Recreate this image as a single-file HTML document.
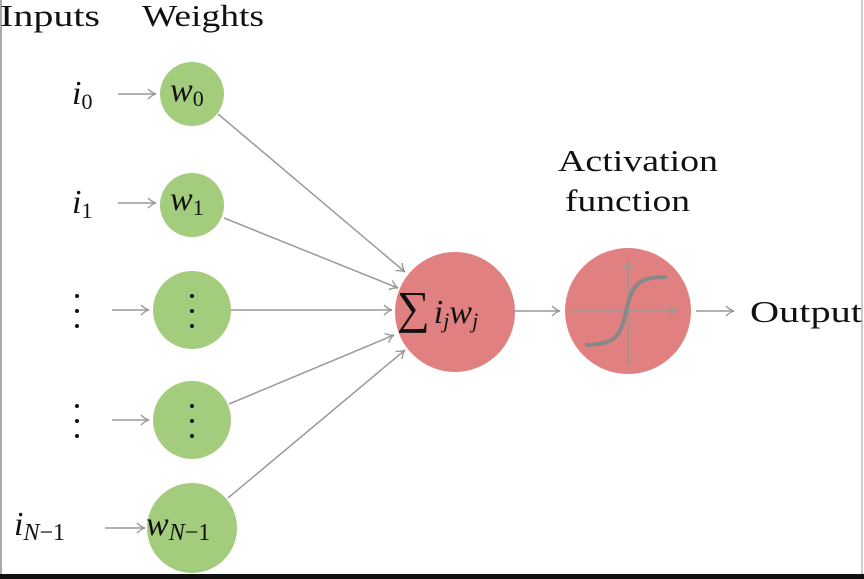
<!DOCTYPE html>
<html><head><style>
body{margin:0;background:#fff;}
svg{display:block}
text{font-family:"Liberation Serif",serif;fill:#111}
</style></head><body>
<svg width="864" height="579" viewBox="0 0 864 579" xmlns="http://www.w3.org/2000/svg">
<defs><marker id="a" markerWidth="12" markerHeight="12" refX="10" refY="6" orient="auto" markerUnits="userSpaceOnUse"><path d="M2,1 Q6,5 10,6 Q6,7 2,11" fill="none" stroke="#999" stroke-width="1.4"/></marker></defs>
<rect x="0" y="0" width="864" height="579" fill="#fff"/>
<line x1="1" y1="0" x2="1" y2="574" stroke="#aaa" stroke-width="2"/>
<line x1="862" y1="0" x2="862" y2="574" stroke="#ccc" stroke-width="2"/>
<rect x="0" y="574" width="864" height="5" fill="#111"/>
<text x="0" y="26" font-size="31" textLength="100" lengthAdjust="spacingAndGlyphs">Inputs</text>
<text x="142" y="26" font-size="31" textLength="122" lengthAdjust="spacingAndGlyphs">Weights</text>
<text x="558" y="171" font-size="31" textLength="160" lengthAdjust="spacingAndGlyphs">Activation</text>
<text x="565" y="211" font-size="31" textLength="125" lengthAdjust="spacingAndGlyphs">function</text>
<g fill="#a3cc7c">
<circle cx="192" cy="94" r="32"/><circle cx="192" cy="205" r="32"/>
<circle cx="192" cy="310" r="39"/><circle cx="192" cy="420" r="39"/>
<circle cx="192" cy="528" r="45"/></g>
<circle cx="455" cy="312" r="60" fill="#e08080"/>
<circle cx="628" cy="311" r="63" fill="#e08080"/>
<g stroke="#999" stroke-width="1.5" fill="none">
<line x1="118" y1="94" x2="156" y2="94" marker-end="url(#a)"/>
<line x1="118" y1="203" x2="156" y2="203" marker-end="url(#a)"/>
<line x1="112" y1="310" x2="149" y2="310" marker-end="url(#a)"/>
<line x1="112" y1="420" x2="149" y2="420" marker-end="url(#a)"/>
<line x1="105" y1="528" x2="145" y2="528" marker-end="url(#a)"/>
<line x1="218" y1="114" x2="405" y2="272" marker-end="url(#a)"/>
<line x1="224" y1="218" x2="398" y2="288" marker-end="url(#a)"/>
<line x1="231" y1="310" x2="392" y2="310" marker-end="url(#a)"/>
<line x1="229" y1="404" x2="394" y2="335" marker-end="url(#a)"/>
<line x1="228" y1="498" x2="405" y2="350" marker-end="url(#a)"/>
<line x1="514" y1="311" x2="560" y2="311" marker-end="url(#a)"/>
<line x1="696" y1="311" x2="734" y2="311" marker-end="url(#a)"/>
<line x1="573" y1="311" x2="677" y2="311" marker-end="url(#a)"/>
<line x1="628" y1="365" x2="628" y2="262" marker-end="url(#a)"/>
</g>
<path d="M585,345 C612,344 620,340 626,312 C632,282 640,277 667,277" stroke="#888" stroke-width="4" fill="none"/>
<g font-style="italic">
<text x="72" y="104" font-size="34">i<tspan font-size="22" font-style="normal" dy="5">0</tspan></text>
<text x="72" y="213" font-size="34">i<tspan font-size="22" font-style="normal" dy="5">1</tspan></text>
<text x="170" y="101" font-size="34">w<tspan font-size="22" font-style="normal" dy="5">0</tspan></text>
<text x="170" y="210" font-size="34">w<tspan font-size="22" font-style="normal" dy="5">1</tspan></text>
<text x="14" y="535" font-size="34">i<tspan font-size="24" dy="5">N</tspan><tspan font-size="24" font-style="normal">−1</tspan></text>
<text x="146" y="535" font-size="34">w<tspan font-size="24" dy="5">N</tspan><tspan font-size="24" font-style="normal">−1</tspan></text>
<text x="397" y="323" font-size="34"><tspan font-style="normal" font-size="46">∑</tspan><tspan dx="4">i</tspan><tspan font-size="22" dy="5">j</tspan><tspan dy="-5">w</tspan><tspan font-size="22" dy="5">j</tspan></text>
</g>
<g fill="#111">
<circle cx="77" cy="296" r="2"/><circle cx="77" cy="311" r="2"/><circle cx="77" cy="326" r="2"/>
<circle cx="192" cy="296" r="2"/><circle cx="192" cy="311" r="2"/><circle cx="192" cy="326" r="2"/>
<circle cx="77" cy="406" r="2"/><circle cx="77" cy="421" r="2"/><circle cx="77" cy="436" r="2"/>
<circle cx="192" cy="406" r="2"/><circle cx="192" cy="421" r="2"/><circle cx="192" cy="436" r="2"/>
</g>
<text x="750" y="322" font-size="31" textLength="112" lengthAdjust="spacingAndGlyphs">Output</text>
</svg>
</body></html>
